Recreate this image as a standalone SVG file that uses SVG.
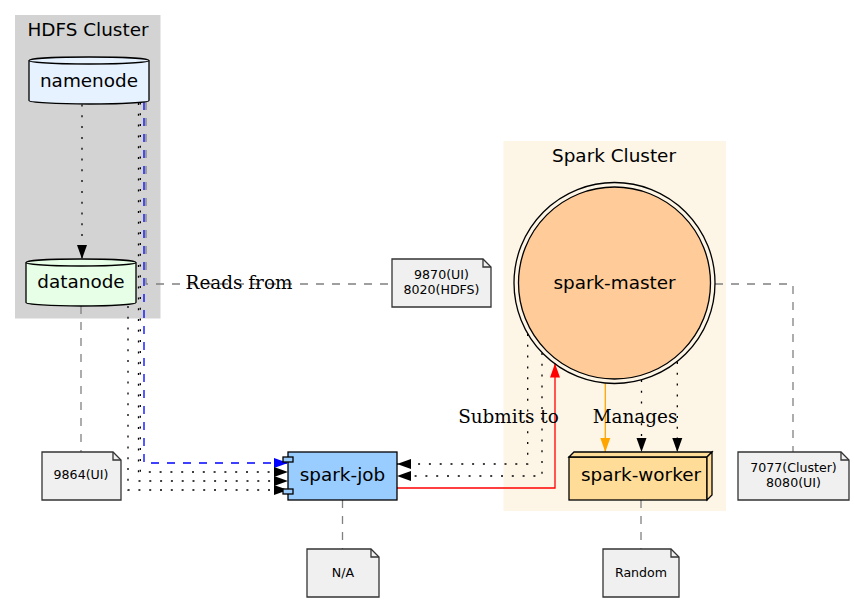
<svg xmlns="http://www.w3.org/2000/svg" width="854" height="603" viewBox="0 0 854 603">
<style>
.bg{fill:#fff}
.nl{font-family:"DejaVu Sans","Liberation Sans",sans-serif;font-size:18.4px;text-anchor:middle;fill:#000}
.nt{font-family:"DejaVu Sans","Liberation Sans",sans-serif;font-size:12.6px;text-anchor:middle;fill:#000}
.el{font-family:"DejaVu Serif","Liberation Serif",serif;font-size:18.4px;text-anchor:middle;fill:#000}
.shape{stroke:#000;stroke-width:1.3}
.note{fill:#f0f0f0;stroke:#333;stroke-width:1.3}
.fold{fill:none;stroke:#333;stroke-width:1.3}
.dot{stroke:#000;stroke-width:1.3;fill:none;stroke-dasharray:2 8.8}
.gray{stroke:#808080;stroke-width:1.3;fill:none;stroke-dasharray:8 8}
.blue{stroke:#0000ff;stroke-width:1.3;fill:none;stroke-dasharray:8 8}
.red{stroke:#ff0000;stroke-width:1.3;fill:none}
.orange{stroke:#ffa500;stroke-width:1.3;fill:none}
</style>
<defs>
<marker id="aBlack" markerUnits="userSpaceOnUse" markerWidth="16" markerHeight="12" refX="14" refY="5.5" orient="auto"><path d="M0,0.5 L14,5.5 L0,10.5 Z" fill="#000" stroke="none"/></marker>
<marker id="aBlue" markerUnits="userSpaceOnUse" markerWidth="16" markerHeight="12" refX="14" refY="5.5" orient="auto"><path d="M0,0.5 L14,5.5 L0,10.5 Z" fill="#0000ff" stroke="none"/></marker>
<marker id="aRed" markerUnits="userSpaceOnUse" markerWidth="16" markerHeight="12" refX="14" refY="5.5" orient="auto"><path d="M0,0.5 L14,5.5 L0,10.5 Z" fill="#ff0000" stroke="none"/></marker>
<marker id="aOrange" markerUnits="userSpaceOnUse" markerWidth="16" markerHeight="12" refX="14" refY="5.5" orient="auto"><path d="M0,0.5 L14,5.5 L0,10.5 Z" fill="#ffa500" stroke="none"/></marker>
</defs>
<rect class="bg" x="0" y="0" width="854" height="603"/>

<g id="cluster_hdfs">
<rect x="15" y="15" width="145.5" height="303.5" fill="#d3d3d3"/>
<text class="nl" x="88" y="36">HDFS Cluster</text>
</g>
<g id="cluster_spark">
<rect x="503.5" y="141" width="222.5" height="370" fill="#fdf5e6"/>
<text class="nl" x="614" y="161.5">Spark Cluster</text>
</g>

<g id="connectors">
<path class="dot" d="M82,104.5 V259" marker-end="url(#aBlack)"/>
<path class="blue" d="M144,102 V463 H288" marker-end="url(#aBlue)"/>
<path class="dot" d="M140.3,102.5 V472 H288" marker-end="url(#aBlack)"/>
<path class="dot" d="M138.5,103 V481 H288" marker-end="url(#aBlack)"/>
<path class="dot" d="M128,306 V490 H288" marker-end="url(#aBlack)"/>
<path class="gray" d="M146,102 V284 H392"/>
<path class="gray" d="M81,306 V452"/>
<path class="gray" d="M342.5,500 V549"/>
<path class="gray" d="M641,500 V549"/>
<path class="gray" d="M715,284 H793 V452"/>
<path class="dot" d="M527.7,334 V464 H397" marker-end="url(#aBlack)"/>
<path class="dot" d="M542,353 V476 H397" marker-end="url(#aBlack)"/>
<path class="red" d="M397,488 H555 V363.5" marker-end="url(#aRed)"/>
<path class="orange" d="M605.3,383.5 V452" marker-end="url(#aOrange)"/>
<path class="dot" d="M641.5,380 V452" marker-end="url(#aBlack)"/>
<path class="dot" d="M677.3,362 V452" marker-end="url(#aBlack)"/>
<text class="el" x="239" y="288.5">Reads from</text>
<text class="el" x="508.5" y="422.5">Submits to</text>
<text class="el" x="635" y="422.5">Manages</text>
</g>

<g id="namenode">
<path class="shape" fill="#e6f2ff" d="M29,60.5 A60,3.5 0 0 1 149,60.5 V100.5 A60,3.5 0 0 1 29,100.5 Z"/>
<path class="shape" fill="none" d="M29,60.5 A60,3.5 0 0 0 149,60.5"/>
<text class="nl" x="89" y="86.5">namenode</text>
</g>

<g id="datanode">
<path class="shape" fill="#e6ffe6" d="M26,262.5 A55,3.5 0 0 1 136,262.5 V302.5 A55,3.5 0 0 1 26,302.5 Z"/>
<path class="shape" fill="none" d="M26,262.5 A55,3.5 0 0 0 136,262.5"/>
<text class="nl" x="81" y="288">datanode</text>
</g>

<g id="spark-master">
<circle class="shape" cx="614.5" cy="283" r="100.5" fill="none"/>
<circle class="shape" cx="614.5" cy="283" r="96" fill="#ffcc99"/>
<text class="nl" x="614.5" y="288.5">spark-master</text>
</g>

<g id="spark-worker">
<rect class="shape" x="569" y="457" width="138" height="43" fill="#ffdd99"/>
<polygon class="shape" points="569,457 574,452 712,452 707,457" fill="#ffdd99"/>
<polygon class="shape" points="707,457 712,452 712,495 707,500" fill="#ffdd99"/>
<text class="nl" x="641" y="481">spark-worker</text>
</g>

<g id="spark-job">
<rect class="shape" x="288" y="452" width="109" height="48" fill="#99ccff"/>
<rect class="shape" x="283" y="457" width="10" height="5" fill="#99ccff"/>
<rect class="shape" x="283" y="489" width="10" height="5" fill="#99ccff"/>
<text class="nl" x="342.5" y="481">spark-job</text>
</g>

<g id="note_datanode">
<path class="note" d="M42,452 H113 L121,460 V500 H42 Z"/>
<path class="fold" d="M113,452 V460 H121"/>
<text class="nt" x="81" y="479">9864(UI)</text>
</g>

<g id="note_namenode">
<path class="note" d="M392,259 H483 L491,267 V307 H392 Z"/>
<path class="fold" d="M483,259 V267 H491"/>
<text class="nt" x="441.5" y="279">9870(UI)</text>
<text class="nt" x="441.5" y="294">8020(HDFS)</text>
</g>

<g id="note_job">
<path class="note" d="M307,549 H371 L379,557 V597 H307 Z"/>
<path class="fold" d="M371,549 V557 H379"/>
<text class="nt" x="343" y="577">N/A</text>
</g>

<g id="note_worker">
<path class="note" d="M603,549 H671 L679,557 V597 H603 Z"/>
<path class="fold" d="M671,549 V557 H679"/>
<text class="nt" x="641" y="577">Random</text>
</g>

<g id="note_master">
<path class="note" d="M738,452 H841 L849,460 V500 H738 Z"/>
<path class="fold" d="M841,452 V460 H849"/>
<text class="nt" x="793.5" y="472">7077(Cluster)</text>
<text class="nt" x="793.5" y="487">8080(UI)</text>
</g>
</svg>
